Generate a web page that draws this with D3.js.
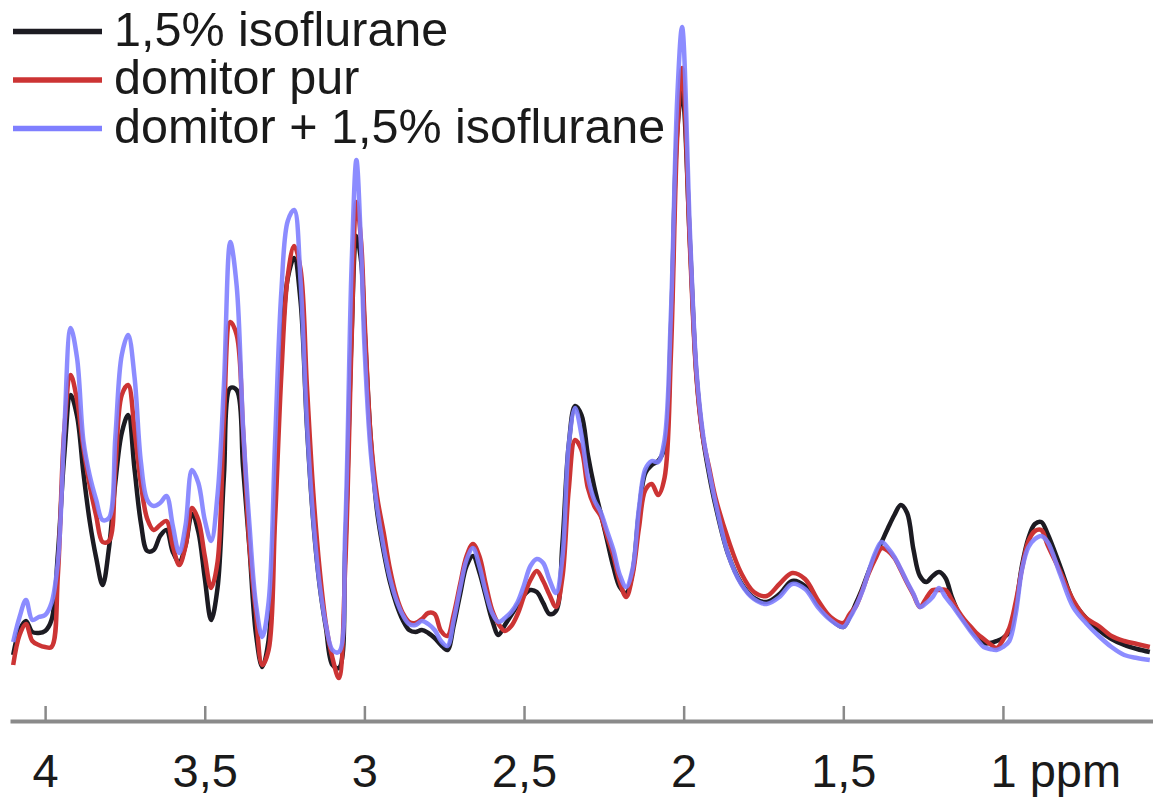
<!DOCTYPE html>
<html>
<head>
<meta charset="utf-8">
<script src="https://cdn.jsdelivr.net/npm/d3@7"></script>
<style>
  html, body { margin: 0; padding: 0; background: #fff; }
  svg { display: block; }
  text { font-family: "Liberation Sans", Arial, sans-serif; fill: #1a1a1a; }
</style>
</head>
<body>
<svg id="chart" width="1153" height="797"></svg>
<script>
// Chemical shift grid (ppm), shared by all three spectra
const ppm = [
  4.10,4.08,4.06,4.04,4.02,4.00,3.98,3.96,3.94,3.92,3.90,3.88,3.86,3.84,3.82,3.80,3.78,3.76,3.74,3.72,
  3.70,3.68,3.66,3.64,3.62,3.60,3.58,3.56,3.54,3.52,3.50,3.48,3.46,3.44,3.42,3.40,3.38,3.36,3.34,3.32,
  3.30,3.28,3.26,3.24,3.22,3.20,3.18,3.16,3.14,3.12,3.10,3.08,3.06,3.04,
  3.025,3.01,3.00,
  2.98,2.96,2.94,2.92,2.90,2.88,2.86,2.84,2.82,2.80,2.78,2.76,2.74,2.72,2.70,2.68,2.66,2.64,2.62,2.60,
  2.58,2.56,2.54,2.52,2.50,2.48,2.46,2.44,2.42,2.40,2.38,2.36,2.34,2.32,2.30,2.28,2.26,2.24,2.22,2.20,
  2.18,2.16,2.14,2.12,2.10,2.08,2.06,2.04,2.02,
  2.005,1.98,1.96,1.94,1.92,1.90,
  1.86,1.82,1.78,1.74,1.70,1.66,1.62,1.58,1.54,1.50,
  1.48,1.46,1.44,1.42,1.40,1.38,1.36,1.34,1.32,1.30,1.28,1.26,1.24,1.22,1.20,1.18,1.16,1.14,1.12,1.10,
  1.08,1.06,1.04,1.02,1.00,0.98,0.96,0.94,0.92,0.90,0.88,0.86,
  0.82,0.78,0.74,0.70,0.66,0.62,0.58,0.54
];

// Signal intensity (a.u.) — 1,5% isoflurane
const isoflurane = [
  6.7,9.2,10.1,9.0,8.9,9.1,10.2,16.8,26.7,32.7,30.6,24.9,20.0,16.4,13.7,17.4,24.0,28.9,30.7,25.3,
  19.9,17.1,17.2,18.6,19.2,17.0,16.0,17.7,20.8,19.0,14.4,10.2,13.4,24.6,33.4,33.2,25.5,17.4,8.9,5.5,
  8.2,22.2,36.8,44.4,46.4,42.1,29.6,20.0,13.6,9.3,5.7,5.4,17.3,38.9,
  48.6,46.0,39.7,
  28.2,21.0,17.1,14.0,11.8,10.2,9.2,9.0,9.2,8.9,8.4,7.7,7.2,9.7,12.8,15.6,16.6,15.0,12.6,10.2,
  8.7,9.7,10.7,11.7,12.7,13.2,13.0,11.9,10.8,11.1,17.7,27.7,31.6,30.7,26.7,23.5,20.9,18.2,15.5,13.5,
  12.9,15.0,21.0,24.9,25.7,26.1,27.4,39.2,59.2,
  63.0,47.7,34.7,28.5,24.7,21.6,
  16.7,13.9,12.4,12.0,12.8,14.1,13.6,11.8,10.3,9.5,
  10.5,11.9,13.4,15.1,16.6,18.0,19.4,20.7,21.7,20.9,17.2,14.6,14.0,14.6,15.0,14.4,12.5,11.0,10.1,9.2,
  8.5,7.9,7.9,8.1,8.4,9.0,11.5,15.7,18.4,19.8,20.0,18.8,
  15.5,12.1,10.4,9.2,8.3,7.7,7.3,7.0
];

// domitor pur
const domitor = [
  5.7,8.7,9.8,8.1,7.7,7.5,7.5,14.7,29.2,34.7,32.2,27.4,23.6,20.6,18.0,18.1,25.4,32.7,33.7,29.2,
  23.8,20.3,19.2,19.7,20.1,17.6,15.7,17.6,21.4,20.2,16.6,13.4,16.0,30.2,40.0,38.7,29.2,17.6,11.0,5.7,
  7.2,20.0,34.8,44.6,47.6,45.3,33.6,22.9,15.2,9.7,6.4,4.4,15.6,38.2,
  52.0,47.9,40.7,
  28.4,22.5,19.0,15.3,12.6,10.9,10.0,9.9,10.3,10.9,10.8,9.1,8.6,10.8,13.8,16.6,17.8,16.6,13.8,11.2,
  9.8,9.1,9.6,10.8,12.6,14.2,15.1,14.1,12.7,11.5,14.4,23.2,28.2,27.2,23.4,21.6,20.6,18.6,16.6,14.0,
  12.5,14.7,19.4,23.2,23.8,22.7,24.4,36.7,58.7,
  65.4,47.2,34.5,28.5,25.4,22.4,
  18.2,14.9,13.0,12.6,13.8,14.9,14.3,12.2,10.5,9.9,
  10.8,11.6,13.2,14.9,16.3,17.4,17.1,16.4,15.2,13.9,12.7,11.5,12.4,13.2,13.2,13.2,12.2,11.1,10.2,9.5,
  8.8,8.3,7.8,7.4,8.2,9.4,12.0,15.4,18.1,19.1,19.2,17.7,
  15.0,12.2,10.4,9.6,8.6,8.1,7.8,7.5
];

// domitor + 1,5% isoflurane
const domitorIso = [
  8.0,10.5,12.2,10.2,10.5,10.7,11.9,16.0,29.1,39.4,36.4,28.1,24.6,22.2,20.2,20.4,28.5,36.7,38.7,34.5,
  26.0,22.2,21.6,21.9,22.6,19.6,16.9,19.7,25.2,23.9,20.2,18.1,22.7,33.7,48.0,43.6,29.5,19.7,11.9,8.5,
  12.0,27.8,43.1,50.1,51.2,44.1,29.9,20.2,13.7,9.6,7.2,7.0,19.2,45.7,
  56.2,47.1,37.7,
  26.9,21.4,17.5,14.4,12.2,10.7,9.8,9.7,10.1,9.8,9.2,8.1,7.6,10.2,13.4,16.2,17.4,15.6,13.0,10.9,
  10.0,10.4,11.0,12.0,13.7,15.6,16.3,15.9,14.2,12.9,16.4,27.7,31.4,28.7,24.5,22.2,21.0,19.1,17.2,14.7,
  13.5,15.3,21.4,25.3,26.1,26.0,28.2,40.8,62.5,
  69.5,48.7,35.2,28.9,25.1,21.9,
  16.7,13.8,12.3,11.8,12.5,13.8,13.3,11.5,10.2,9.5,
  10.4,11.6,13.1,15.1,16.9,18.0,17.4,16.5,15.3,14.0,12.8,11.5,11.9,12.5,13.4,12.5,11.7,10.8,9.9,9.0,
  8.2,7.5,7.3,7.2,7.5,8.1,10.8,15.3,17.5,18.3,18.6,18.0,
  14.7,11.5,9.9,8.6,7.5,6.7,6.4,6.2
];

const tickValues = [4, 3.5, 3, 2.5, 2, 1.5, 1];
const tickLabels = ["4", "3,5", "3", "2,5", "2", "1,5", "1 ppm"];
const seriesNames = ["1,5% isoflurane", "domitor pur", "domitor + 1,5% isoflurane"];
const seriesColors = ["#1c1b22", "#cc3434", "#7f7fff"];

const svg = d3.select("#chart");
const x = d3.scaleLinear().domain([4.11, 0.53]).range([10, 1153]);
const y = d3.scaleLinear().domain([0, 70]).range([722, 22]);

const series = [isoflurane, domitor, domitorIso];
const line = d3.line()
  .x((d, i) => x(ppm[i]))
  .y(d => y(d))
  .curve(d3.curveCatmullRom.alpha(0.5));

const plot = svg.append("g");
series.forEach((vals, k) => {
  plot.append("path")
    .datum(vals)
    .attr("d", line)
    .attr("fill", "none")
    .attr("stroke", seriesColors[k])
    .attr("stroke-width", 4.5)
    .attr("stroke-linejoin", "round")
    .attr("stroke-opacity", k === 2 ? 0.9 : 1);
});

// Axis
const axis = d3.axisBottom(x)
  .tickValues(tickValues)
  .tickSizeInner(-15)
  .tickSizeOuter(0)
  .tickFormat((d, i) => tickLabels[i]);

const gAxis = svg.append("g")
  .attr("transform", "translate(0,721)")
  .call(axis);
gAxis.select(".domain").attr("stroke", "#8a8a8a").attr("stroke-width", 4);
gAxis.selectAll(".tick line").attr("stroke", "#8a8a8a").attr("stroke-width", 2.5);
gAxis.selectAll(".tick text")
  .attr("y", 66)
  .attr("dy", 0)
  .style("font-size", "47px")
  .style("font-family", '"Liberation Sans", Arial, sans-serif')
  .attr("fill", "#1a1a1a");
gAxis.selectAll(".tick text")
  .filter((d, i) => i === tickLabels.length - 1)
  .attr("text-anchor", "start")
  .attr("x", -13);

// Legend
const legend = svg.append("g");
seriesNames.forEach((name, k) => {
  const cy = 31.5 + k * 48.5;
  legend.append("line")
    .attr("x1", 13).attr("x2", 102)
    .attr("y1", cy).attr("y2", cy)
    .attr("stroke", seriesColors[k])
    .attr("stroke-width", 5.5);
  legend.append("text")
    .attr("x", 114)
    .attr("y", cy + 14)
    .style("font-size", "48.5px")
    .text(name);
});
</script>
</body>
</html>
